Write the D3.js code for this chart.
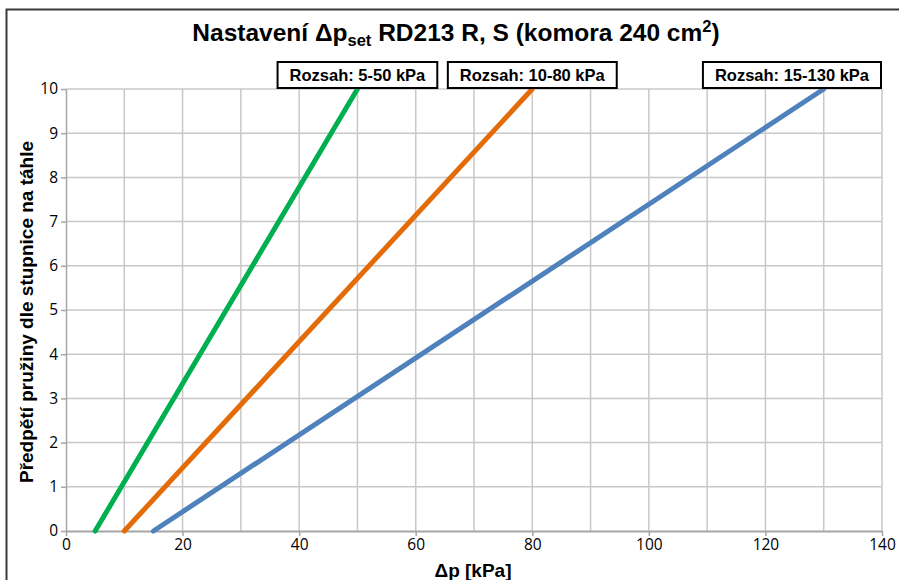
<!DOCTYPE html>
<html><head><meta charset="utf-8">
<script src="https://cdn.jsdelivr.net/npm/d3@7"></script>
<style>body{margin:0;background:#fff}svg{display:block}</style>
</head><body>
<script>
const xTicks = [0,20,40,60,80,100,120,140];
const yTicks = [0,1,2,3,4,5,6,7,8,9,10];
const seriesNames = ["Rozsah: 5-50 kPa","Rozsah: 10-80 kPa","Rozsah: 15-130 kPa"];
const seriesColors = ["#00B050","#E36C09","#4F81BD"];
const seriesX = [[5,50],[10,80],[15,130]];
const seriesY = [[0,10],[0,10],[0,10]];

const W=899,H=580;
const m={l:66,r:882,t:89,b:531};
const svg=d3.select("body").append("svg").attr("width",W).attr("height",H);
svg.append("rect").attr("width",W).attr("height",H).attr("fill","#fff");
svg.append("rect").attr("x",6.5).attr("y",9.5).attr("width",1000).attr("height",1000)
  .attr("fill","none").attr("stroke","#3a3a3a").attr("stroke-width",2);

const x=d3.scaleLinear().domain([0,140]).range([m.l,m.r]);
const y=d3.scaleLinear().domain([0,10]).range([m.b,m.t]);

// grid
const g=svg.append("g");
g.selectAll(".vx").data(d3.range(10,141,10)).join("line")
  .attr("x1",d=>x(d)).attr("x2",d=>x(d)).attr("y1",m.t).attr("y2",m.b)
  .attr("stroke","#c8c8c8").attr("stroke-width",1.5);
g.selectAll(".hy").data(yTicks.slice(1)).join("line")
  .attr("x1",m.l).attr("x2",m.r).attr("y1",d=>y(d)).attr("y2",d=>y(d))
  .attr("stroke","#c8c8c8").attr("stroke-width",1.5);

// axes
const xa=svg.append("g").attr("transform",`translate(0,${m.b})`)
  .call(d3.axisBottom(x).tickValues(xTicks).tickSize(5).tickSizeOuter(0).tickPadding(3));
xa.select(".domain").attr("stroke","#a6a6a6").attr("stroke-width",2);
xa.selectAll(".tick line").attr("stroke","#a6a6a6").attr("stroke-width",1.5);
xa.selectAll("text").attr("font-family","'Open Sans',sans-serif")
  .attr("font-size",15.5).attr("fill","#000");
const ya=svg.append("g").attr("transform",`translate(${m.l},0)`)
  .call(d3.axisLeft(y).tickValues(yTicks).tickSize(5).tickSizeOuter(0).tickPadding(3));
ya.select(".domain").attr("stroke","#a6a6a6").attr("stroke-width",1.5);
ya.selectAll(".tick line").attr("stroke","#a6a6a6").attr("stroke-width",1.5);
ya.selectAll("text").attr("font-family","'Open Sans',sans-serif").attr("font-size",15.5).attr("fill","#000");

// lines
const line=d3.line().x(d=>x(d[0])).y(d=>y(d[1]));
seriesNames.forEach((n,i)=>{
  const pts=seriesX[i].map((v,j)=>[v,seriesY[i][j]]);
  svg.append("path").datum(pts).attr("d",line).attr("fill","none")
    .attr("stroke",seriesColors[i]).attr("stroke-width",5).attr("stroke-linecap","round");
});

// labels
seriesNames.forEach((n,i)=>{
  const lg=svg.append("g");
  const t=lg.append("text").text(n).attr("font-family","Arial,'Liberation Sans',sans-serif")
    .attr("font-weight","bold").attr("font-size",16.5).attr("text-anchor","middle");
  const tw=t.node().getComputedTextLength();
  const bw=tw+24, bh=26;
  let cx=x(seriesX[i][1]);
  if(cx+bw/2>m.r-1) cx=m.r-1-bw/2;
  t.attr("x",cx).attr("y",m.t-8);
  lg.insert("rect","text").attr("x",cx-bw/2).attr("y",m.t-27).attr("width",bw).attr("height",bh)
    .attr("fill","#fff").attr("stroke","#000").attr("stroke-width",2);
});

// title
const tt=svg.append("text").attr("x",456).attr("y",41).attr("text-anchor","middle")
  .attr("font-family","Arial,'Liberation Sans',sans-serif").attr("font-weight","bold").attr("font-size",24.5);
tt.append("tspan").text("Nastavení Δp");
tt.append("tspan").text("set").attr("font-size",16.5).attr("dy",5);
tt.append("tspan").text(" RD213 R, S (komora 240 cm").attr("dy",-5);
tt.append("tspan").text("2").attr("font-size",16.5).attr("dy",-9);
tt.append("tspan").text(")").attr("dy",9);

// axis titles
svg.append("text").attr("x",473).attr("y",577).attr("text-anchor","middle")
  .attr("font-family","Arial,'Liberation Sans',sans-serif").attr("font-weight","bold")
  .attr("font-size",19).text("Δp [kPa]");
svg.append("text").attr("transform",`translate(33,${(m.t+m.b)/2+2}) rotate(-90)`).attr("text-anchor","middle")
  .attr("font-family","Arial,'Liberation Sans',sans-serif").attr("font-weight","bold")
  .attr("font-size",19).text("Předpětí pružiny dle stupnice na táhle");
</script>
</body></html>
